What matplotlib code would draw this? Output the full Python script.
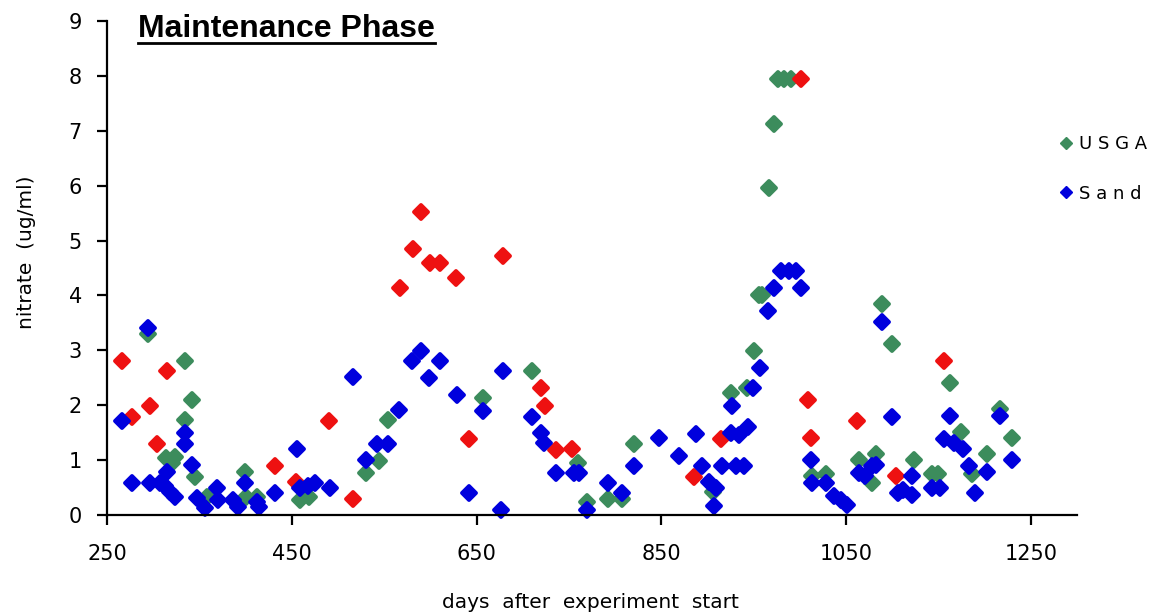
import matplotlib
matplotlib.use("Agg")
import matplotlib.pyplot as plt
from matplotlib.lines import Line2D
from matplotlib.markers import MarkerStyle

# ---------------- data ----------------
usga_days = [294.6, 334, 341.5, 334, 314, 324, 320, 345, 399, 401, 412, 358, 458.6, 469,
             530, 544, 554, 656.8, 710, 759.5, 769.6, 792, 807, 820, 905.5, 926, 943,
             950.5, 956, 959.5, 966.8, 972, 976, 983, 990, 1013.5, 1028, 1064, 1082,
             1078, 1089, 1100, 1123.5, 1143, 1150, 1163, 1174, 1186.6, 1202.7, 1217, 1230]
usga_vals = [3.30, 2.81, 2.09, 1.73, 1.04, 1.06, 0.95, 0.70, 0.79, 0.33, 0.33, 0.33, 0.27, 0.33,
             0.77, 0.99, 1.73, 2.13, 2.63, 0.94, 0.24, 0.29, 0.30, 1.29, 0.42, 2.23, 2.31,
             2.99, 4.00, 4.00, 5.95, 7.12, 7.95, 7.95, 7.95, 0.71, 0.74, 1.01, 1.11,
             0.58, 3.84, 3.11, 1.01, 0.74, 0.74, 2.40, 1.51, 0.74, 1.11, 1.94, 1.40]

sand_days = [266, 277, 294.6, 296.5, 307, 312.7, 314.5, 323.5, 318, 334, 334, 341.5, 347, 356,
             368.6, 370, 386.5, 392, 399, 412, 415, 431.6, 456, 458.6, 467.6, 475, 491,
             516, 530.7, 542, 554, 566, 580.4, 589.5, 599, 611, 628.7, 641.6, 656.8,
             676.6, 678.4, 710, 719.8, 723.5, 736, 756, 761, 769.6, 792, 807.4, 820, 847,
             869.5, 887.5, 894.6, 902, 909, 907, 915.5, 930.6, 939.7, 925, 934, 927, 944,
             949.8, 956.6, 966, 972, 980, 988, 996, 1001, 1011.8, 1013.5, 1028, 1037,
             1044, 1051, 1064, 1071, 1078, 1082, 1089, 1100, 1106, 1112, 1121, 1121.6,
             1143, 1152, 1156, 1163, 1167, 1177, 1183, 1190, 1202.7, 1217, 1230]
sand_vals = [1.72, 0.59, 3.41, 0.59, 0.59, 0.52, 0.79, 0.33, 0.42, 1.49, 1.29, 0.91, 0.31, 0.13,
             0.49, 0.27, 0.27, 0.15, 0.59, 0.24, 0.15, 0.40, 1.20, 0.49, 0.52, 0.58, 0.49,
             2.51, 1.01, 1.29, 1.29, 1.91, 2.81, 2.99, 2.49, 2.81, 2.19, 0.40, 1.90,
             0.10, 2.63, 1.79, 1.49, 1.31, 0.77, 0.77, 0.77, 0.10, 0.59, 0.40, 0.89, 1.40,
             1.07, 1.48, 0.89, 0.61, 0.49, 0.16, 0.89, 0.89, 0.89, 1.49, 1.46, 1.99, 1.61,
             2.31, 2.67, 3.72, 4.14, 4.45, 4.45, 4.45, 4.14, 1.01, 0.58, 0.58, 0.34,
             0.28, 0.18, 0.77, 0.71, 0.89, 0.92, 3.52, 1.78, 0.40, 0.46, 0.36, 0.71,
             0.49, 0.49, 1.38, 1.81, 1.32, 1.20, 0.89, 0.40, 0.78, 1.81, 1.01]

other_days = [266, 277, 296.5, 303.7, 314.5, 431.6, 455, 490, 516, 566.8, 580.8, 589.5, 600,
              611, 628, 641.6, 679, 719.8, 724.6, 736, 753, 885.7, 914.5, 1001, 1009,
              1012.6, 1061.6, 1103.6, 1156]
other_vals = [2.80, 1.79, 1.99, 1.29, 2.62, 0.90, 0.61, 1.72, 0.29, 4.13, 4.85, 5.52, 4.60,
              4.60, 4.32, 1.38, 4.72, 2.31, 1.99, 1.18, 1.20, 0.70, 1.38, 7.95, 2.10,
              1.40, 1.72, 0.71, 2.81]

x_ticks = [250, 450, 650, 850, 1050, 1250]
y_ticks = [0, 1, 2, 3, 4, 5, 6, 7, 8, 9]

GREEN = "#3c8c5c"
BLUE = "#0000dd"
RED = "#ee1111"

# ---------------- figure ----------------
fig = plt.figure(figsize=(11.59, 6.16), dpi=100)
ax = fig.add_axes([107 / 1159, 1 - 515 / 616, (1077 - 107) / 1159, (515 - 21) / 616])

diamond = MarkerStyle("D", joinstyle="round")
mk = dict(marker=diamond, linestyle="none", markersize=7.3, markeredgewidth=2.8,
          clip_on=False)
ax.plot(usga_days, usga_vals, color=GREEN, markerfacecolor=GREEN, markeredgecolor=GREEN,
        zorder=3, **mk)
ax.plot(other_days, other_vals, color=RED, markerfacecolor=RED, markeredgecolor=RED,
        zorder=4, **mk)
ax.plot(sand_days, sand_vals, color=BLUE, markerfacecolor=BLUE, markeredgecolor=BLUE,
        zorder=5, **mk)

ax.set_xlim(250, 1300)
ax.set_ylim(0, 9)
ax.set_xticks(x_ticks)
ax.set_yticks(y_ticks)
ax.set_xticklabels([str(t) for t in x_ticks])
ax.set_yticklabels([str(t) for t in y_ticks])

for s in ["top", "right"]:
    ax.spines[s].set_visible(False)
for s in ["left", "bottom"]:
    ax.spines[s].set_linewidth(1.6)
    ax.spines[s].set_color("black")
    ax.spines[s].set_zorder(6)

ax.tick_params(axis="both", direction="out", length=7, width=1.6, labelsize=15,
               colors="black")
ax.tick_params(axis="x", pad=14)
ax.tick_params(axis="y", pad=11)

for lab in ax.get_xticklabels() + ax.get_yticklabels():
    lab.set_family("DejaVu Sans")

ax.set_xlabel("days  after  experiment  start", fontsize=14.5, family="DejaVu Sans")
ax.set_ylabel("nitrate  (ug/ml)", fontsize=14.5, family="DejaVu Sans")
ax.xaxis.set_label_coords((590 - 107) / (1077 - 107), -(603 - 515) / (515 - 21))
ax.yaxis.set_label_coords(-(107 - 27) / (1077 - 107), (515 - 252) / (515 - 21))
ax.xaxis.label.set_va("center")
ax.yaxis.label.set_va("center")

# Title with underline
title = fig.text(138 / 1159, 1 - 37 / 616, "Maintenance Phase", fontsize=23,
                 fontweight="bold", family="Liberation Sans", ha="left", va="baseline")
fig.canvas.draw()
bb = title.get_window_extent(renderer=fig.canvas.get_renderer())
W, H = fig.bbox.width, fig.bbox.height
uy = (616 - 43) / 616
fig.add_artist(Line2D([bb.x0 / W, bb.x1 / W], [uy, uy], transform=fig.transFigure,
                      color="black", linewidth=2.0))

# Legend (only two series as in original)
handles = [
    Line2D([], [], marker="D", linestyle="none", color=GREEN, markersize=6.5),
    Line2D([], [], marker="D", linestyle="none", color=BLUE, markersize=6.5),
]
fig.legend(handles, ["U S G A", "S a n d"], loc="upper left",
           bbox_to_anchor=(1050 / 1159, 1 - 126 / 616), frameon=False,
           prop={"family": "DejaVu Sans", "size": 13}, handlelength=0.8,
           handletextpad=0.3, labelspacing=1.75, borderpad=0)

fig.savefig("out.png", dpi=100)
